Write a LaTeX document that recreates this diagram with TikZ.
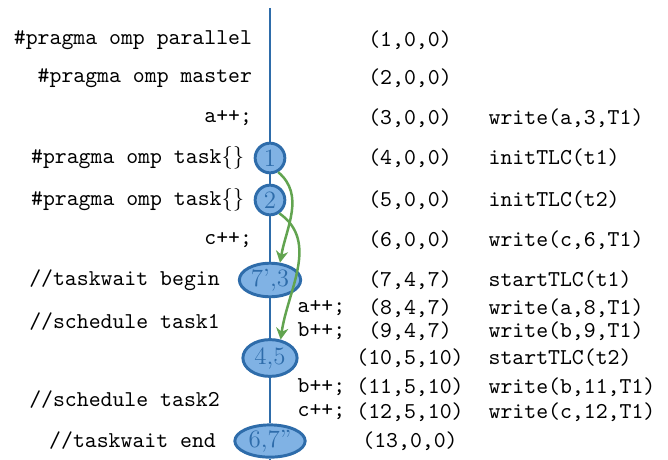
\documentclass[tikz,border=0pt]{standalone}
\usetikzlibrary{shapes.geometric,arrows.meta}

\definecolor{ompblue}{RGB}{46,108,170}
\definecolor{ompfill}{RGB}{128,178,228}
\definecolor{ompgreen}{RGB}{98,164,80}

\begin{document}
\begin{tikzpicture}[>={Stealth[length=1.8mm,width=1.9mm]}, font=\ttfamily,
  task/.style={draw=ompblue, circle, fill=ompfill, line width=1.3pt, inner sep=0pt,
    minimum size=0.46cm, text=ompblue, font=\rmfamily\fontsize{11}{13}\selectfont},
  sync/.style={draw=ompblue, ellipse, fill=ompfill, line width=1.3pt, inner sep=0pt,
    text=ompblue, font=\rmfamily\fontsize{11}{13}\selectfont},
  code/.style={anchor=east},
  spawn/.style={->, draw=ompgreen, line width=1.1pt}]
\useasboundingbox (0,0) rectangle (10.354,-7.13);

% source lines
\node[code] (l1) at (4.03,-0.62){\#pragma omp parallel};
\node[code] (l2) at (4.03,-1.209){\#pragma omp master};
\node[code] (l3) at (4.03,-1.829){a++;};
\node[code] (l4) at (3.91,-2.449){\#pragma omp task$\{\}$};
\node[code] (l5) at (3.91,-3.10){\#pragma omp task$\{\}$};
\node[code] (l6) at (4.03,-3.72){c++;};
\node[code] (l7) at (3.53,-4.34){//taskwait begin};
\node[code] (l8) at (3.53,-4.99){//schedule task1};
\node[code] (l9) at (3.53,-6.20){//schedule task2};
\node[code] (l10) at (3.47,-6.836){//taskwait end};

% thread line
\node[task] (c1) at (4.185,-2.449){1};
\node[task] (c2) at (4.185,-3.10){2};
\node[sync, minimum width=0.95cm, minimum height=0.52cm] (e1) at (4.185,-4.34){7',3};
\node[sync, minimum width=0.84cm, minimum height=0.57cm] (e2) at (4.185,-5.549){4,5};
\node[sync, minimum width=1.09cm, minimum height=0.50cm] (e3) at (4.185,-6.836){6,7''};
\coordinate (top) at (4.185,-0.124);
\coordinate (bot) at (4.185,-7.13);
\draw[ompblue, line width=1.2pt] (top) -- (c1) -- (c2) -- (e1) -- (e2) -- (e3) -- (bot);

% task bodies
\node[anchor=west] (s1) at (4.49,-4.774){a++;};
\node[anchor=west] (s2) at (4.49,-5.13){b++;};
\node[anchor=west] (s3) at (4.49,-5.999){b++;};
\node[anchor=west] (s4) at (4.49,-6.386){c++;};

% vector clocks
\node (v1) at (6.355,-0.62){(1,0,0)};
\node (v2) at (6.355,-1.209){(2,0,0)};
\node (v3) at (6.355,-1.829){(3,0,0)};
\node (v4) at (6.355,-2.449){(4,0,0)};
\node (v5) at (6.355,-3.10){(5,0,0)};
\node (v6) at (6.355,-3.72){(6,0,0)};
\node (v7) at (6.355,-4.34){(7,4,7)};
\node (v8) at (6.355,-4.774){(8,4,7)};
\node (v9) at (6.355,-5.13){(9,4,7)};
\node (v10) at (6.355,-5.549){(10,5,10)};
\node (v11) at (6.355,-5.999){(11,5,10)};
\node (v12) at (6.355,-6.386){(12,5,10)};
\node (v13) at (6.355,-6.836){(13,0,0)};

% events
\node[anchor=west] (a3) at (7.45,-1.829){write(a,3,T1)};
\node[anchor=west] (a4) at (7.45,-2.449){initTLC(t1)};
\node[anchor=west] (a5) at (7.45,-3.10){initTLC(t2)};
\node[anchor=west] (a6) at (7.45,-3.72){write(c,6,T1)};
\node[anchor=west] (a7) at (7.45,-4.34){startTLC(t1)};
\node[anchor=west] (a8) at (7.45,-4.774){write(a,8,T1)};
\node[anchor=west] (a9) at (7.45,-5.13){write(b,9,T1)};
\node[anchor=west] (a10) at (7.45,-5.549){startTLC(t2)};
\node[anchor=west] (a11) at (7.45,-5.999){write(b,11,T1)};
\node[anchor=west] (a12) at (7.45,-6.386){write(c,12,T1)};

\draw[spawn] (c1.-60) to[out=-40,in=80] (e1.60);
\draw[spawn] (c2.-55) to[out=-35,in=82] (e2.60);

\end{tikzpicture}
\end{document}
